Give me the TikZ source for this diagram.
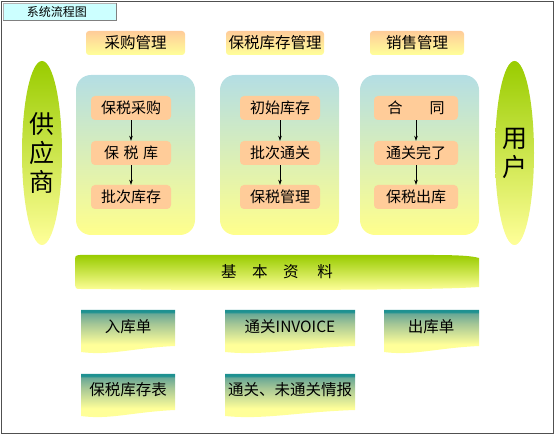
\documentclass[tikz,border=0pt]{standalone}
\usepackage{fontspec}
\setmainfont{Noto Sans CJK SC}
\usetikzlibrary{arrows.meta,shapes.geometric}
\definecolor{peach}{RGB}{255,204,153}
\definecolor{pyellow}{RGB}{255,255,153}
\definecolor{lgreen}{RGB}{153,204,0}
\definecolor{pblue}{RGB}{180,222,228}
\definecolor{pyel2}{RGB}{255,255,140}
\definecolor{teal2}{RGB}{30,145,145}
\definecolor{dmid}{RGB}{165,198,150}
\definecolor{dmid2}{RGB}{105,168,150}
\definecolor{tabcyan}{RGB}{204,255,255}
\definecolor{framegray}{RGB}{80,80,80}
\pgfdeclareverticalshading{docshade}{100bp}{color(0bp)=(pyellow); color(37.5bp)=(pyellow); color(60bp)=(dmid); color(71bp)=(dmid2); color(73bp)=(teal2); color(100bp)=(teal2)}
\tikzset{
  inbox/.style={rectangle,rounded corners=4pt,fill=peach,minimum width=80pt,minimum height=24pt,inner sep=0pt,font=\fontsize{15}{17}\selectfont},
  headbox/.style={rectangle,rounded corners=3pt,top color=peach,bottom color=pyellow,minimum height=24pt,inner sep=0pt,font=\fontsize{15.5}{17}\selectfont},
  panel/.style={rectangle,rounded corners=15pt,top color=pblue,bottom color=pyel2,minimum width=119pt,minimum height=160pt,inner sep=0pt},
  sideell/.style={ellipse,top color=lgreen,bottom color=pyellow,inner sep=0pt,font=\fontsize{25}{28}\selectfont,align=center},
  doctext/.style={inner sep=0pt,font=\fontsize{15.5}{17}\selectfont},
  flowarrow/.style={draw=black,line width=0.6pt,-{Stealth[length=5pt,width=3.5pt]}}
}
\newcommand{\docshape}[3]{% x1, x2, Ytop
  \pgfmathsetmacro{\dw}{#2-#1}
  \shade[shading=docshade]
    (#1,#3) -- (#2,#3) -- (#2,#3-36)
    .. controls (#1+0.55*\dw,#3-38) and (#1+0.3*\dw,#3-46) .. (#1,#3-42) -- cycle;
}
\begin{document}
\begin{tikzpicture}[x=1pt,y=1pt]
\useasboundingbox (0,0) rectangle (555,435);
% frame
\draw[framegray,line width=1.2pt] (1.5,1.5) rectangle (553.5,433.5);
% title tab
\fill[tabcyan] (3,414) rectangle (116,432);
\draw[gray!60,line width=0.6pt] (3,414) -- (3,432) -- (116,432);
\draw[gray,line width=1pt] (116,432) -- (116,414) -- (3,414);
\node[inner sep=0pt,font=\fontsize{12}{14}\selectfont] (title) at (57,423) {系统流程图};
% headers
\node[headbox,minimum width=99pt] (h1) at (135.5,392) {采购管理};
\node[headbox,minimum width=98pt] (h2) at (275,392) {保税库存管理};
\node[headbox,minimum width=94pt] (h3) at (417,392) {销售管理};
% side ellipses
\node[sideell,minimum width=40pt,minimum height=184pt] (sup) at (42,282) {供\\[1pt]应\\[1pt]商};
\node[sideell,minimum width=39pt,minimum height=184pt] (usr) at (514.5,282) {用\\[1pt]户};
% panels
\node[panel] (p1) at (135.5,280) {};
\node[panel] (p2) at (279.5,280) {};
\node[panel] (p3) at (419.5,280) {};
% inner boxes
\node[inbox] (a1) at (131,327) {保税采购};
\node[inbox] (a2) at (131,282) {保\hspace{0.3em}税\hspace{0.3em}库};
\node[inbox] (a3) at (131,238) {批次库存};
\node[inbox] (b1) at (280,327) {初始库存};
\node[inbox] (b2) at (280,282) {批次通关};
\node[inbox] (b3) at (280,238) {保税管理};
\node[inbox,minimum width=84pt] (c1) at (416,327) {合\hspace{1.8em}同};
\node[inbox,minimum width=84pt] (c2) at (416,282) {通关完了};
\node[inbox,minimum width=84pt] (c3) at (416,238) {保税出库};
\draw[flowarrow] (a1) -- (a2);
\draw[flowarrow] (a2) -- (a3);
\draw[flowarrow] (b1) -- (b2);
\draw[flowarrow] (b2) -- (b3);
\draw[flowarrow] (c1) -- (c2);
\draw[flowarrow] (c2) -- (c3);
% base bar
\shade[top color=lgreen,bottom color=pyellow]
  (75,176) .. controls (74,178) and (76,180) .. (80,180)
  -- (430,180) .. controls (460,180) and (472,179) .. (479,177)
  -- (479,148) .. controls (440,145) and (300,145) .. (200,145)
  -- (80,146) .. controls (76,146) and (75,147) .. (75,150) -- cycle;
\node[inner sep=0pt,font=\fontsize{15.5}{17}\selectfont] (base) at (277,163) {基\hspace{1em}本\hspace{1em}资\hspace{1.2em}料};
% documents
\docshape{81}{175}{125}
\docshape{225}{355}{125}
\docshape{384}{479}{125}
\docshape{81}{175}{61}
\docshape{225}{355}{61}
\node[doctext] (d1) at (128,108) {入库单};
\node[doctext] (d2) at (290,108) {通关INVOICE};
\node[doctext] (d3) at (431,108) {出库单};
\node[doctext] (d4) at (128,45) {保税库存表};
\node[doctext] (d5) at (290,45) {通关、未通关情报};
\end{tikzpicture}
\end{document}
